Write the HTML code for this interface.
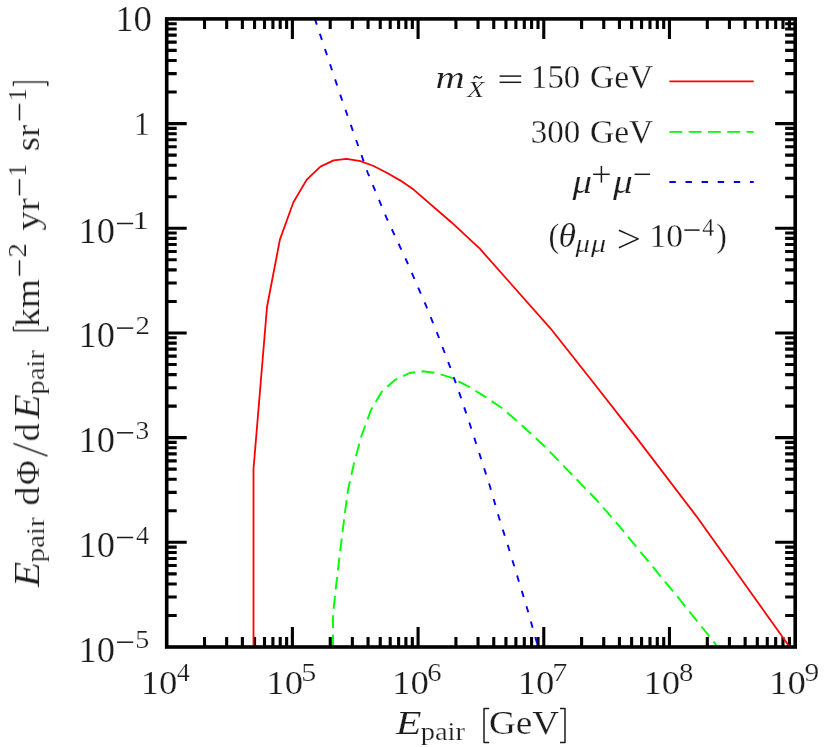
<!DOCTYPE html>
<html><head><meta charset="utf-8"><title>plot</title>
<style>html,body{margin:0;padding:0;background:#fff;}svg{display:block;font-family:"Liberation Serif",serif;}</style>
</head><body>
<svg width="830" height="747" viewBox="0 0 830 747">
<rect width="830" height="747" fill="#fff"/>
<path d="M204.54 647.00v-10.0M204.54 18.90v10.0M226.67 647.00v-10.0M226.67 18.90v10.0M242.37 647.00v-10.0M242.37 18.90v10.0M254.55 647.00v-10.0M254.55 18.90v10.0M264.51 647.00v-10.0M264.51 18.90v10.0M272.92 647.00v-10.0M272.92 18.90v10.0M280.21 647.00v-10.0M280.21 18.90v10.0M286.64 647.00v-10.0M286.64 18.90v10.0M292.39 647.00v-20.0M292.39 18.90v20.0M330.23 647.00v-10.0M330.23 18.90v10.0M352.36 647.00v-10.0M352.36 18.90v10.0M368.06 647.00v-10.0M368.06 18.90v10.0M380.24 647.00v-10.0M380.24 18.90v10.0M390.20 647.00v-10.0M390.20 18.90v10.0M398.61 647.00v-10.0M398.61 18.90v10.0M405.90 647.00v-10.0M405.90 18.90v10.0M412.33 647.00v-10.0M412.33 18.90v10.0M418.08 647.00v-20.0M418.08 18.90v20.0M455.92 647.00v-10.0M455.92 18.90v10.0M478.05 647.00v-10.0M478.05 18.90v10.0M493.75 647.00v-10.0M493.75 18.90v10.0M505.93 647.00v-10.0M505.93 18.90v10.0M515.89 647.00v-10.0M515.89 18.90v10.0M524.30 647.00v-10.0M524.30 18.90v10.0M531.59 647.00v-10.0M531.59 18.90v10.0M538.02 647.00v-10.0M538.02 18.90v10.0M543.77 647.00v-20.0M543.77 18.90v20.0M581.61 647.00v-10.0M581.61 18.90v10.0M603.74 647.00v-10.0M603.74 18.90v10.0M619.44 647.00v-10.0M619.44 18.90v10.0M631.62 647.00v-10.0M631.62 18.90v10.0M641.58 647.00v-10.0M641.58 18.90v10.0M649.99 647.00v-10.0M649.99 18.90v10.0M657.28 647.00v-10.0M657.28 18.90v10.0M663.71 647.00v-10.0M663.71 18.90v10.0M669.46 647.00v-20.0M669.46 18.90v20.0M707.30 647.00v-10.0M707.30 18.90v10.0M729.43 647.00v-10.0M729.43 18.90v10.0M745.13 647.00v-10.0M745.13 18.90v10.0M757.31 647.00v-10.0M757.31 18.90v10.0M767.27 647.00v-10.0M767.27 18.90v10.0M775.68 647.00v-10.0M775.68 18.90v10.0M782.97 647.00v-10.0M782.97 18.90v10.0M789.40 647.00v-10.0M789.40 18.90v10.0M166.70 123.58h20.0M795.15 123.58h-20.0M166.70 92.07h10.0M795.15 92.07h-10.0M166.70 73.64h10.0M795.15 73.64h-10.0M166.70 60.56h10.0M795.15 60.56h-10.0M166.70 50.41h10.0M795.15 50.41h-10.0M166.70 42.12h10.0M795.15 42.12h-10.0M166.70 35.12h10.0M795.15 35.12h-10.0M166.70 29.04h10.0M795.15 29.04h-10.0M166.70 23.69h10.0M795.15 23.69h-10.0M166.70 228.27h20.0M795.15 228.27h-20.0M166.70 196.75h10.0M795.15 196.75h-10.0M166.70 178.32h10.0M795.15 178.32h-10.0M166.70 165.24h10.0M795.15 165.24h-10.0M166.70 155.10h10.0M795.15 155.10h-10.0M166.70 146.81h10.0M795.15 146.81h-10.0M166.70 139.80h10.0M795.15 139.80h-10.0M166.70 133.73h10.0M795.15 133.73h-10.0M166.70 128.37h10.0M795.15 128.37h-10.0M166.70 332.95h20.0M795.15 332.95h-20.0M166.70 301.44h10.0M795.15 301.44h-10.0M166.70 283.00h10.0M795.15 283.00h-10.0M166.70 269.92h10.0M795.15 269.92h-10.0M166.70 259.78h10.0M795.15 259.78h-10.0M166.70 251.49h10.0M795.15 251.49h-10.0M166.70 244.48h10.0M795.15 244.48h-10.0M166.70 238.41h10.0M795.15 238.41h-10.0M166.70 233.06h10.0M795.15 233.06h-10.0M166.70 437.63h20.0M795.15 437.63h-20.0M166.70 406.12h10.0M795.15 406.12h-10.0M166.70 387.69h10.0M795.15 387.69h-10.0M166.70 374.61h10.0M795.15 374.61h-10.0M166.70 364.46h10.0M795.15 364.46h-10.0M166.70 356.17h10.0M795.15 356.17h-10.0M166.70 349.17h10.0M795.15 349.17h-10.0M166.70 343.09h10.0M795.15 343.09h-10.0M166.70 337.74h10.0M795.15 337.74h-10.0M166.70 542.32h20.0M795.15 542.32h-20.0M166.70 510.80h10.0M795.15 510.80h-10.0M166.70 492.37h10.0M795.15 492.37h-10.0M166.70 479.29h10.0M795.15 479.29h-10.0M166.70 469.15h10.0M795.15 469.15h-10.0M166.70 460.86h10.0M795.15 460.86h-10.0M166.70 453.85h10.0M795.15 453.85h-10.0M166.70 447.78h10.0M795.15 447.78h-10.0M166.70 442.42h10.0M795.15 442.42h-10.0M166.70 615.49h10.0M795.15 615.49h-10.0M166.70 597.05h10.0M795.15 597.05h-10.0M166.70 583.97h10.0M795.15 583.97h-10.0M166.70 573.83h10.0M795.15 573.83h-10.0M166.70 565.54h10.0M795.15 565.54h-10.0M166.70 558.53h10.0M795.15 558.53h-10.0M166.70 552.46h10.0M795.15 552.46h-10.0M166.70 547.11h10.0M795.15 547.11h-10.0" stroke="#000" stroke-width="3.1" fill="none"/>
<polyline points="253.5,647.1 253.5,469.0 267.0,307.0 279.9,239.6 293.4,202.3 306.6,179.9 320.4,166.6 333.6,160.4 346.7,158.9 360.4,161.2 373.6,166.0 387.2,173.0 400.5,180.6 413.6,189.6 451.3,222.2 479.8,248.7 550.4,328.3 593.5,382.7 636.8,438.1 696.3,516.1 788.6,645.5" fill="none" stroke="#f00" stroke-width="1.8" stroke-linejoin="round"/>
<polyline points="333.0,646.0 333.0,614.6 336.1,585.7 339.8,554.3 344.5,515.9 348.1,489.4 354.1,462.9 361.3,436.4 371.0,409.9 381.8,391.8 395.1,379.8 409.5,373.0 422.8,371.3 436.0,373.0 450.5,377.3 467.3,385.8 484.2,396.1 501.1,407.5 516.7,420.7 530.0,432.8 545.2,447.0 596.6,500.0 620.0,527.0 676.6,595.7 716.4,645.1" fill="none" stroke="#0f0" stroke-width="1.9" stroke-dasharray="12.8 6.5" stroke-dashoffset="1.3" stroke-linejoin="round"/>
<polyline points="314.8,18.6 341.2,97.6 354.0,134.0 367.8,173.0 386.3,217.3 406.4,260.5 425.8,305.1 437.9,335.0 449.3,364.9 460.1,395.1 470.2,425.3 480.1,455.8 490.0,486.5 498.9,517.3 508.6,547.8 518.0,578.5 527.3,609.0 536.7,642.1 538.0,646.9" fill="none" stroke="#00f" stroke-width="1.9" stroke-dasharray="6.4 9.63"/>
<path d="M669.4 81.4H753.7" stroke="#f00" stroke-width="1.8"/>
<path d="M669.4 131.9H753.7" stroke="#0f0" stroke-width="1.9" stroke-dasharray="12.8 6.5"/>
<path d="M669.4 182H753.7" stroke="#00f" stroke-width="1.9" stroke-dasharray="6.4 9.7"/>
<rect x="166.7" y="18.9" width="628.5" height="628.1" fill="none" stroke="#000" stroke-width="3.6"/>
<g font-family="'Liberation Serif', serif" fill="#1c1a1a" opacity="0.995" stroke="#fff" paint-order="fill stroke" stroke-linejoin="round">
<text transform="translate(140.64 694.00) scale(1.066 1)" font-size="34.5" stroke-width="0.235">10</text>
<text transform="translate(176.77 681.20) scale(1.067 1)" font-size="24.5" stroke-width="0.234">4</text>
<text transform="translate(266.33 694.00) scale(1.066 1)" font-size="34.5" stroke-width="0.235">10</text>
<text transform="translate(301.14 681.20) scale(1.231 1)" font-size="24.5" stroke-width="0.203">5</text>
<text transform="translate(392.02 694.00) scale(1.066 1)" font-size="34.5" stroke-width="0.235">10</text>
<text transform="translate(427.22 681.20) scale(1.171 1)" font-size="24.5" stroke-width="0.214">6</text>
<text transform="translate(517.71 694.00) scale(1.066 1)" font-size="34.5" stroke-width="0.235">10</text>
<text transform="translate(552.22 681.20) scale(1.231 1)" font-size="24.5" stroke-width="0.203">7</text>
<text transform="translate(643.40 694.00) scale(1.066 1)" font-size="34.5" stroke-width="0.235">10</text>
<text transform="translate(678.89 681.20) scale(1.171 1)" font-size="24.5" stroke-width="0.214">8</text>
<text transform="translate(769.09 694.00) scale(1.066 1)" font-size="34.5" stroke-width="0.235">10</text>
<text transform="translate(804.55 681.20) scale(1.200 1)" font-size="24.5" stroke-width="0.208">9</text>
<text transform="translate(115.14 30.50) scale(1.045 1)" font-size="35.18" stroke-width="0.239">10</text>
<text transform="translate(133.73 135.00) scale(0.945 1)" font-size="34.5" stroke-width="0.265">1</text>
<text transform="translate(78.57 242.77) scale(1.035 1)" font-size="35.18" stroke-width="0.242">10</text>
<text transform="translate(132.58 229.47) scale(1.341 1)" font-size="24.5" stroke-width="0.186">1</text>
<text transform="translate(78.57 347.45) scale(1.035 1)" font-size="35.18" stroke-width="0.242">10</text>
<text transform="translate(135.43 334.15) scale(1.179 1)" font-size="24.5" stroke-width="0.212">2</text>
<text transform="translate(78.57 452.13) scale(1.035 1)" font-size="35.18" stroke-width="0.242">10</text>
<text transform="translate(135.50 438.83) scale(1.120 1)" font-size="24.5" stroke-width="0.223">3</text>
<text transform="translate(78.57 556.82) scale(1.035 1)" font-size="35.18" stroke-width="0.242">10</text>
<text transform="translate(135.97 543.52) scale(1.067 1)" font-size="24.5" stroke-width="0.234">4</text>
<text transform="translate(78.57 661.50) scale(1.035 1)" font-size="35.18" stroke-width="0.242">10</text>
<text transform="translate(135.18 648.20) scale(1.149 1)" font-size="24.5" stroke-width="0.218">5</text>
<text transform="translate(395.71 733.90) scale(1.224 1)" font-size="34.5" font-style="italic" stroke-width="0.204">E</text>
<text transform="translate(420.72 739.60) scale(1.162 1)" font-size="24.5" stroke-width="0.215">pair</text>
<text transform="translate(488.98 733.90) scale(1.077 1)" font-size="34.5" stroke-width="0.232">GeV</text>
<text transform="translate(435.53 87.80) scale(1.258 1)" font-size="32.27" font-style="italic" stroke-width="0.199">m</text>
<text transform="translate(466.98 97.20) scale(1.224 1)" font-size="23.28" font-style="italic" stroke-width="0.204">X</text>
<text transform="translate(531.02 88.00) scale(0.949 1)" font-size="34.5" stroke-width="0.263">150</text>
<text transform="translate(589.94 88.00) scale(0.971 1)" font-size="34.5" stroke-width="0.258">GeV</text>
<text transform="translate(530.63 143.30) scale(0.957 1)" font-size="34.5" stroke-width="0.261">300</text>
<text transform="translate(589.94 143.30) scale(0.971 1)" font-size="34.5" stroke-width="0.258">GeV</text>
<text transform="translate(572.62 192.70) scale(1.130 1)" font-size="34.5" font-style="italic" stroke-width="0.221">μ</text>
<text transform="translate(613.01 192.70) scale(1.143 1)" font-size="34.5" font-style="italic" stroke-width="0.219">μ</text>
<text transform="translate(548.47 247.40) scale(0.929 1)" font-size="34.5" stroke-width="0.269">(</text>
<text transform="translate(558.59 247.40) scale(1.032 1)" font-size="34.5" font-style="italic" stroke-width="0.242">θ</text>
<text transform="translate(575.41 251.80) scale(1.173 1)" font-size="24.5" font-style="italic" stroke-width="0.213">μ</text>
<text transform="translate(591.09 251.80) scale(1.227 1)" font-size="24.5" font-style="italic" stroke-width="0.204">μ</text>
<text transform="translate(649.54 247.30) scale(0.971 1)" font-size="34.5" stroke-width="0.257">10</text>
<text transform="translate(702.21 235.70) scale(0.978 1)" font-size="24.5" stroke-width="0.256">4</text>
<text transform="translate(716.35 247.40) scale(0.918 1)" font-size="34.5" stroke-width="0.272">)</text>
<path d="M117.0 223.5L133.2 223.5" stroke="#1c1a1a" stroke-width="1.5" fill="none"/>
<path d="M117.0 328.1L133.2 328.1" stroke="#1c1a1a" stroke-width="1.5" fill="none"/>
<path d="M117.0 432.8L133.2 432.8" stroke="#1c1a1a" stroke-width="1.5" fill="none"/>
<path d="M117.0 537.5L133.2 537.5" stroke="#1c1a1a" stroke-width="1.5" fill="none"/>
<path d="M117.0 642.2L133.2 642.2" stroke="#1c1a1a" stroke-width="1.5" fill="none"/>
<polyline points="489.2,708.6 484.0,708.6 484.0,742.6 489.2,742.6" stroke="#1c1a1a" stroke-width="1.5" fill="none"/>
<polyline points="560.0,708.6 565.0,708.6 565.0,742.6 560.0,742.6" stroke="#1c1a1a" stroke-width="1.5" fill="none"/>
<path d="M473.6 78.5C474.6 76.0 476.4 76.1 477.7 77.3S480.8 78.7 481.9 76.2" stroke="#1c1a1a" stroke-width="1.3" fill="none"/>
<path d="M499.6 76.1L521.2 76.1" stroke="#1c1a1a" stroke-width="1.5" fill="none"/>
<path d="M499.6 82.3L521.2 82.3" stroke="#1c1a1a" stroke-width="1.5" fill="none"/>
<path d="M593.1 174.3L609.7 174.3" stroke="#1c1a1a" stroke-width="1.5" fill="none"/>
<path d="M601.4 165.9L601.4 182.6" stroke="#1c1a1a" stroke-width="1.5" fill="none"/>
<path d="M634.5 174.3L650.1 174.3" stroke="#1c1a1a" stroke-width="1.5" fill="none"/>
<polyline points="618.9,230.2 638.2,238.9 618.9,247.7" stroke="#1c1a1a" stroke-width="1.5" fill="none"/>
<path d="M684.3 230.1L699.6 230.1" stroke="#1c1a1a" stroke-width="1.5" fill="none"/>
<g transform="translate(0 587.4) rotate(-90)">
<text transform="translate(0.30 38.90) scale(1.163 1)" font-size="35.88" font-style="italic" stroke-width="0.215">E</text>
<text transform="translate(25.01 44.30) scale(1.184 1)" font-size="24.5" stroke-width="0.211">pair</text>
<text transform="translate(81.82 39.10) scale(1.103 1)" font-size="34.5" stroke-width="0.227">d</text>
<text transform="translate(102.58 39.10) scale(0.976 1)" font-size="34.5" stroke-width="0.256">Φ</text>
<text transform="translate(145.88 39.10) scale(1.058 1)" font-size="34.5" stroke-width="0.236">d</text>
<text transform="translate(168.39 38.90) scale(1.121 1)" font-size="35.88" font-style="italic" stroke-width="0.223">E</text>
<text transform="translate(192.81 44.30) scale(1.170 1)" font-size="24.5" stroke-width="0.214">pair</text>
<text transform="translate(260.49 39.10) scale(1.085 1)" font-size="34.5" stroke-width="0.230">km</text>
<text transform="translate(329.81 26.00) scale(1.189 1)" font-size="24.5" stroke-width="0.210">2</text>
<text transform="translate(356.74 39.10) scale(1.128 1)" font-size="34.5" stroke-width="0.222">yr</text>
<text transform="translate(410.39 26.00) scale(1.071 1)" font-size="24.5" stroke-width="0.234">1</text>
<text transform="translate(436.33 39.10) scale(1.048 1)" font-size="34.5" stroke-width="0.239">sr</text>
<text transform="translate(486.27 26.00) scale(1.035 1)" font-size="24.5" stroke-width="0.241">1</text>
<path d="M131.4 47.6L143.9 13.4" stroke="#1c1a1a" stroke-width="1.5" fill="none"/>
<polyline points="260.8,13.4 256.8,13.4 256.8,47.7 260.8,47.7" stroke="#1c1a1a" stroke-width="1.4" fill="none"/>
<path d="M311.6 19.5L327.1 19.5" stroke="#1c1a1a" stroke-width="1.5" fill="none"/>
<path d="M392.0 19.5L408.3 19.5" stroke="#1c1a1a" stroke-width="1.5" fill="none"/>
<path d="M466.9 19.5L483.5 19.5" stroke="#1c1a1a" stroke-width="1.5" fill="none"/>
<polyline points="501.4,13.4 505.4,13.4 505.4,47.7 501.4,47.7" stroke="#1c1a1a" stroke-width="1.4" fill="none"/>
</g></g>
</svg>
</body></html>
